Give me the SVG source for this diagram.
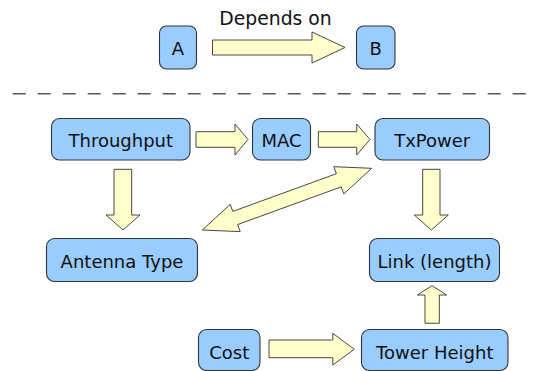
<svg xmlns="http://www.w3.org/2000/svg" width="534" height="371" viewBox="0 0 534 371">
<style>
.box{fill:#99ccff;stroke:#333;stroke-width:1.1}
.arr{fill:#ffffcc;stroke:#333;stroke-width:0.9;stroke-linejoin:miter}
.t{font-family:"DejaVu Sans",Verdana,sans-serif;font-size:18px;fill:#111;text-anchor:middle}
.lbl{font-family:"DejaVu Sans",Verdana,sans-serif;font-size:18.8px;fill:#111;text-anchor:middle}
.dash{stroke:#555;stroke-width:1.4;stroke-dasharray:13 12;fill:none}
</style>
<rect width="534" height="371" fill="#fff"/>
<g id="legend-A"><rect class="box" x="159.5" y="26" width="37" height="43" rx="7"/><text class="t" x="178" y="55">A</text></g>
<g id="legend-B"><rect class="box" x="356.5" y="26" width="38.5" height="43" rx="7"/><text class="t" x="375.7" y="55">B</text></g>
<text class="lbl" x="275.5" y="25">Depends on</text>
<line class="dash" x1="12.7" y1="93.7" x2="526" y2="93.7"/>
<g id="throughput"><rect class="box" x="51.5" y="118.5" width="138.5" height="41.5" rx="8"/><text class="t" x="120.8" y="146.8">Throughput</text></g>
<g id="mac"><rect class="box" x="252.5" y="118.5" width="58" height="41.5" rx="8"/><text class="t" x="281.5" y="146.8">MAC</text></g>
<g id="txpower"><rect class="box" x="375" y="118.5" width="114.5" height="41.5" rx="8"/><text class="t" x="432.2" y="146.8">TxPower</text></g>
<g id="antenna"><rect class="box" x="46.5" y="238.5" width="151" height="43" rx="8"/><text class="t" x="122" y="268">Antenna Type</text></g>
<g id="link"><rect class="box" x="369.5" y="238.5" width="130" height="43" rx="8"/><text class="t" x="434.5" y="268">Link (length)</text></g>
<g id="cost"><rect class="box" x="198.5" y="329.5" width="61.5" height="41" rx="8"/><text class="t" x="229.3" y="359">Cost</text></g>
<g id="tower"><rect class="box" x="361.5" y="329.5" width="146.5" height="41" rx="8"/><text class="t" x="434.8" y="359">Tower Height</text></g>
<g id="connectors">
<polygon class="arr" points="212.5,40 312,40 312,32 345,47.5 312,63 312,55 212.5,55"/>
<polygon class="arr" points="196,131.7 235,131.7 235,124 248,139.5 235,155 235,147.3 196,147.3"/>
<polygon class="arr" points="318.3,131.7 356.7,131.7 356.7,124 370,139.5 356.7,155 356.7,147.3 318.3,147.3"/>
<polygon class="arr" points="114,169.3 131.7,169.3 131.7,215 140,215 123,230 106,215 114,215"/>
<polygon class="arr" points="422.7,169.3 440,169.3 440,215 448.3,215 431.3,230 414.3,215 422.7,215"/>
<polygon class="arr" points="425,323.3 439.3,323.3 439.3,295 446.7,295 432,285.7 417.3,295 425,295"/>
<polygon class="arr" points="269,340 332.8,340 332.8,333.3 354.3,349.3 332.8,365 332.8,357.7 269,357.7"/>
<polygon class="arr" points="202.3,230 230.2,204.4 232.8,211.4 336.4,173.7 333.8,166.7 371.7,168.3 343.8,193.9 341.2,186.9 237.6,224.6 240.2,231.6"/>
</g>
</svg>
